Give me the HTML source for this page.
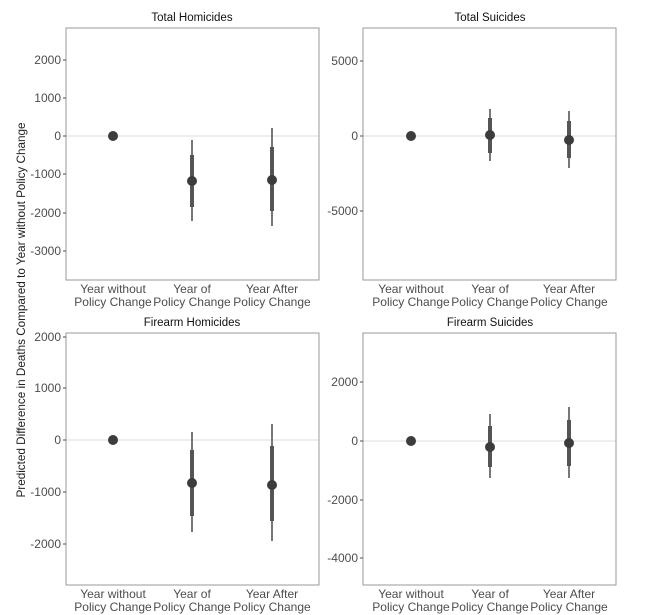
<!DOCTYPE html>
<html><head><style>body{margin:0;background:#fff}svg{display:block}</style></head><body>
<svg width="653" height="615" xmlns="http://www.w3.org/2000/svg" font-family="Liberation Sans, sans-serif">
<rect width="653" height="615" fill="#fff"/>
<g font-size="12" fill="#4d4d4d">
<text transform="translate(25,310) rotate(-90)" text-anchor="middle" fill="#222" textLength="375" lengthAdjust="spacingAndGlyphs">Predicted Difference in Deaths Compared to Year without Policy Change</text>
</g>
<!-- panel 1 -->
<g>
<text x="192" y="21" font-size="11.5" text-anchor="middle" fill="#111">Total Homicides</text>
<line x1="66" x2="319" y1="136" y2="136" stroke="#dcdcdc"/>
<rect x="66" y="28" width="253" height="252" fill="none" stroke="#999"/>
<g font-size="12" fill="#4d4d4d" text-anchor="end">
<text x="61" y="64">2000</text><text x="61" y="102">1000</text><text x="61" y="140">0</text><text x="61" y="178">-1000</text><text x="61" y="217">-2000</text><text x="61" y="255">-3000</text>
</g>
<g stroke="#4d4d4d"><line x1="63" x2="66" y1="60" y2="60"/><line x1="63" x2="66" y1="98" y2="98"/><line x1="63" x2="66" y1="136" y2="136"/><line x1="63" x2="66" y1="174" y2="174"/><line x1="63" x2="66" y1="213" y2="213"/><line x1="63" x2="66" y1="251" y2="251"/></g>
<line x1="192" x2="192" y1="140" y2="221" stroke="#777" stroke-width="2"/>
<line x1="192" x2="192" y1="155" y2="207" stroke="#555" stroke-width="4"/>
<line x1="272" x2="272" y1="128" y2="226" stroke="#777" stroke-width="2"/>
<line x1="272" x2="272" y1="147" y2="211" stroke="#555" stroke-width="4"/>
<circle cx="113" cy="136" r="5" fill="#3c3c3c"/><circle cx="192" cy="181" r="5" fill="#3c3c3c"/><circle cx="272" cy="180" r="5" fill="#3c3c3c"/>
<g font-size="12" fill="#4d4d4d" text-anchor="middle">
<text x="113" y="293">Year without</text><text x="113" y="306">Policy Change</text>
<text x="192" y="293">Year of</text><text x="192" y="306">Policy Change</text>
<text x="272" y="293">Year After</text><text x="272" y="306">Policy Change</text>
</g>
</g>
<!-- panel 2 -->
<g>
<text x="490" y="21" font-size="11.5" text-anchor="middle" fill="#111">Total Suicides</text>
<line x1="363" x2="616" y1="136" y2="136" stroke="#dcdcdc"/>
<rect x="363" y="28" width="253" height="252" fill="none" stroke="#999"/>
<g font-size="12" fill="#4d4d4d" text-anchor="end">
<text x="358" y="65">5000</text><text x="358" y="140">0</text><text x="358" y="215">-5000</text>
</g>
<g stroke="#4d4d4d"><line x1="360" x2="363" y1="61" y2="61"/><line x1="360" x2="363" y1="136" y2="136"/><line x1="360" x2="363" y1="211" y2="211"/></g>
<line x1="490" x2="490" y1="109" y2="161" stroke="#777" stroke-width="2"/>
<line x1="490" x2="490" y1="118" y2="153" stroke="#555" stroke-width="4"/>
<line x1="569" x2="569" y1="111" y2="168" stroke="#777" stroke-width="2"/>
<line x1="569" x2="569" y1="121" y2="158" stroke="#555" stroke-width="4"/>
<circle cx="411" cy="136" r="5" fill="#3c3c3c"/><circle cx="490" cy="135" r="5" fill="#3c3c3c"/><circle cx="569" cy="140" r="5" fill="#3c3c3c"/>
<g font-size="12" fill="#4d4d4d" text-anchor="middle">
<text x="411" y="293">Year without</text><text x="411" y="306">Policy Change</text>
<text x="490" y="293">Year of</text><text x="490" y="306">Policy Change</text>
<text x="569" y="293">Year After</text><text x="569" y="306">Policy Change</text>
</g>
</g>
<!-- panel 3 -->
<g>
<text x="192" y="326" font-size="11.5" text-anchor="middle" fill="#111">Firearm Homicides</text>
<line x1="66" x2="319" y1="440" y2="440" stroke="#dcdcdc"/>
<rect x="66" y="333" width="253" height="252" fill="none" stroke="#999"/>
<g font-size="12" fill="#4d4d4d" text-anchor="end">
<text x="61" y="341">2000</text><text x="61" y="392">1000</text><text x="61" y="444">0</text><text x="61" y="496">-1000</text><text x="61" y="548">-2000</text>
</g>
<g stroke="#4d4d4d"><line x1="63" x2="66" y1="337" y2="337"/><line x1="63" x2="66" y1="388" y2="388"/><line x1="63" x2="66" y1="440" y2="440"/><line x1="63" x2="66" y1="492" y2="492"/><line x1="63" x2="66" y1="544" y2="544"/></g>
<line x1="192" x2="192" y1="432" y2="532" stroke="#777" stroke-width="2"/>
<line x1="192" x2="192" y1="450" y2="516" stroke="#555" stroke-width="4"/>
<line x1="272" x2="272" y1="424" y2="541" stroke="#777" stroke-width="2"/>
<line x1="272" x2="272" y1="446" y2="521" stroke="#555" stroke-width="4"/>
<circle cx="113" cy="440" r="5" fill="#3c3c3c"/><circle cx="192" cy="483" r="5" fill="#3c3c3c"/><circle cx="272" cy="485" r="5" fill="#3c3c3c"/>
<g font-size="12" fill="#4d4d4d" text-anchor="middle">
<text x="113" y="598">Year without</text><text x="113" y="611">Policy Change</text>
<text x="192" y="598">Year of</text><text x="192" y="611">Policy Change</text>
<text x="272" y="598">Year After</text><text x="272" y="611">Policy Change</text>
</g>
</g>
<!-- panel 4 -->
<g>
<text x="490" y="326" font-size="11.5" text-anchor="middle" fill="#111">Firearm Suicides</text>
<line x1="363" x2="616" y1="441" y2="441" stroke="#dcdcdc"/>
<rect x="363" y="333" width="253" height="252" fill="none" stroke="#999"/>
<g font-size="12" fill="#4d4d4d" text-anchor="end">
<text x="358" y="386">2000</text><text x="358" y="445">0</text><text x="358" y="504">-2000</text><text x="358" y="562">-4000</text>
</g>
<g stroke="#4d4d4d"><line x1="360" x2="363" y1="382" y2="382"/><line x1="360" x2="363" y1="441" y2="441"/><line x1="360" x2="363" y1="500" y2="500"/><line x1="360" x2="363" y1="558" y2="558"/></g>
<line x1="490" x2="490" y1="414" y2="478" stroke="#777" stroke-width="2"/>
<line x1="490" x2="490" y1="426" y2="467" stroke="#555" stroke-width="4"/>
<line x1="569" x2="569" y1="407" y2="478" stroke="#777" stroke-width="2"/>
<line x1="569" x2="569" y1="420" y2="466" stroke="#555" stroke-width="4"/>
<circle cx="411" cy="441" r="5" fill="#3c3c3c"/><circle cx="490" cy="447" r="5" fill="#3c3c3c"/><circle cx="569" cy="443" r="5" fill="#3c3c3c"/>
<g font-size="12" fill="#4d4d4d" text-anchor="middle">
<text x="411" y="598">Year without</text><text x="411" y="611">Policy Change</text>
<text x="490" y="598">Year of</text><text x="490" y="611">Policy Change</text>
<text x="569" y="598">Year After</text><text x="569" y="611">Policy Change</text>
</g>
</g>
</svg>
</body></html>
